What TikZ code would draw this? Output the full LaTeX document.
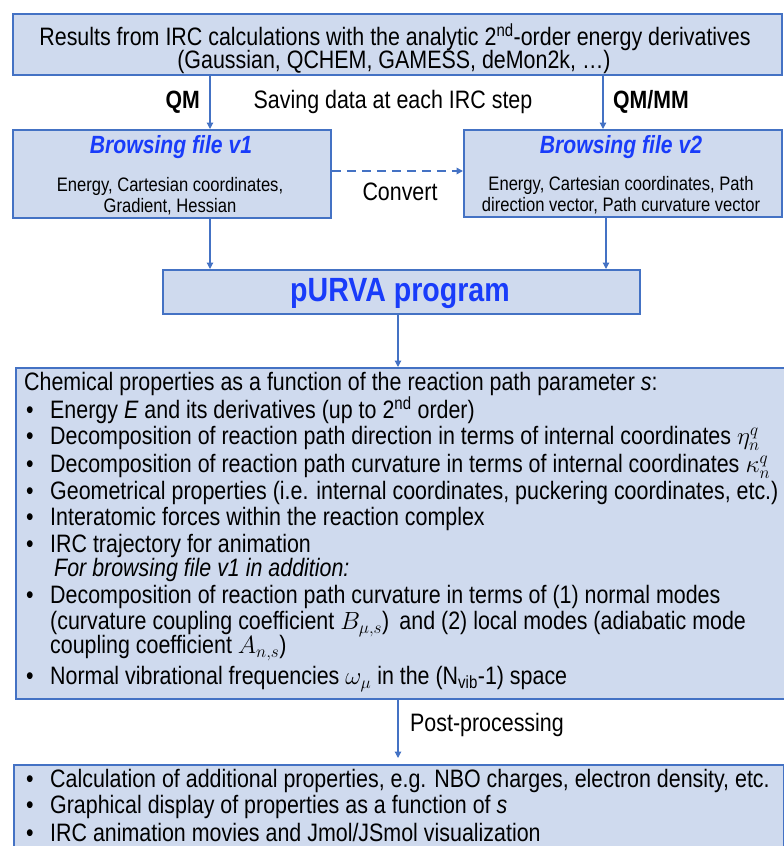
\documentclass[tikz,border=0pt]{standalone}
\usepackage{fontspec}
\setmainfont[FakeStretch=0.85]{Liberation Sans}
\usetikzlibrary{arrows.meta}
\definecolor{boxfill}{RGB}{207,218,238}
\definecolor{boxline}{RGB}{68,114,196}
\definecolor{titleblue}{RGB}{25,60,250}
\newcommand{\mybul}{\makebox[24pt][l]{•}}
\tikzset{
  box/.style={draw=boxline, fill=boxfill, line width=1.8pt, anchor=north west, inner sep=0pt},
  arr/.style={draw=boxline, line width=1.2pt, -{Triangle[width=6.5pt,length=6.5pt]}},
  txt/.style={inner sep=0pt, font=\fontsize{25.2}{28}\selectfont},
  small/.style={inner sep=0pt, font=\fontsize{19.5}{23}\selectfont},
  ttl/.style={inner sep=0pt, text=titleblue, font=\fontsize{24.9}{28}\selectfont\bfseries\itshape},
  line/.style={txt, anchor=west},
}
\begin{document}
\begin{tikzpicture}[x=1pt,y=-1pt]
\useasboundingbox (0,0) rectangle (784,846);
\clip (0,0) rectangle (784,846);
% boxes
\node[box, minimum width=769pt, minimum height=61pt] (top) at (12,13) {};
\node[box, minimum width=318pt, minimum height=88pt] (v1) at (12,129) {};
\node[box, minimum width=318pt, minimum height=87pt] (v2) at (463,129) {};
\node[box, minimum width=477pt, minimum height=44pt] (purva) at (162,269) {};
\node[box, minimum width=785pt, minimum height=331pt] (big) at (15,367) {};
\node[box, minimum width=770pt, minimum height=110pt] (bot) at (13,764) {};
% top text
\node[txt] (t1) at (395,37) {Results from IRC calculations with the analytic 2\textsuperscript{nd}-order energy derivatives};
\node[txt] (t2) at (394,62) {(Gaussian, QCHEM, GAMESS, deMon2k, …)};
% labels between
\node[txt, font=\fontsize{25}{28}\selectfont\bfseries, anchor=east] (qm) at (200,102) {QM};
\node[txt, font=\fontsize{25}{28}\selectfont\bfseries, anchor=west] (qmmm) at (613,102) {QM/MM};
\node[txt] (save) at (393,102) {Saving data at each IRC step};
% v1
\node[ttl] (v1t) at (171,147) {Browsing file v1};
\node[small] (v1a) at (170,186) {Energy, Cartesian coordinates,};
\node[small] (v1b) at (170,207) {Gradient, Hessian};
% v2
\node[ttl] (v2t) at (621,147) {Browsing file v2};
\node[small] (v2a) at (621,185) {Energy, Cartesian coordinates, Path};
\node[small] (v2b) at (621,206) {direction vector, Path curvature vector};
\node[txt] (conv) at (400,192) {Convert};
% purva
\node[inner sep=0pt, text=titleblue, font=\fontsize{33.6}{38}\selectfont\bfseries] (pt) at (400,293) {pURVA program};
% arrows
\coordinate (xa) at (210,0);
\coordinate (xb) at (603,0);
\coordinate (xc) at (606,0);
\coordinate (xd) at (398,0);
\draw[arr] (top.south -| xa) -- (v1.north -| xa);
\draw[arr] (top.south -| xb) -- (v2.north -| xb);
\draw[arr] (v1.south -| xa) -- (purva.north -| xa);
\draw[arr] (v2.south -| xc) -- (purva.north -| xc);
\draw[arr] (purva.south -| xd) -- (big.north -| xd);
\coordinate (pe) at (398,758);
\draw[arr] (big.south -| xd) -- (pe);
\coordinate (dy) at (0,171);
\draw[arr, line width=1.8pt, dash pattern=on 9pt off 6pt] (v1.east |- dy) -- (v2.west |- dy);
\node[txt, anchor=west] (post) at (410,725) {Post-processing};
% big box lines
\node[line] (l1) at (24,384) {Chemical properties as a function of the reaction path parameter \textit{s}:};
\node[line] (l2) at (26,410) {\mybul Energy \textit{E} and its derivatives (up to 2\textsuperscript{nd} order)};
\node[line] (l3) at (26,438) {\mybul Decomposition of reaction path direction in terms of internal coordinates $\eta_n^q$};
\node[line] (l4) at (26,466) {\mybul Decomposition of reaction path curvature in terms of internal coordinates $\kappa_n^q$};
\node[line] (l5) at (26,493) {\mybul Geometrical properties (i.e. internal coordinates, puckering coordinates, etc.)};
\node[line] (l6) at (26,519) {\mybul Interatomic forces within the reaction complex};
\node[line] (l7) at (26,546) {\mybul IRC trajectory for animation};
\node[line] (l8) at (54,570) {\textit{For browsing file v1 in addition:}};
\node[line] (l9) at (26,597) {\mybul Decomposition of reaction path curvature in terms of (1) normal modes};
\node[line] (l10) at (50,624) {(curvature coupling coefficient $B_{\mu,s}$)\, and (2) local modes (adiabatic mode};
\node[line] (l11) at (50,648) {coupling coefficient $A_{n,s}$)};
\node[line] (l12) at (26,679) {\mybul Normal vibrational frequencies $\omega_\mu$ in the (N\textsubscript{vib}-1) space};
% bottom box lines
\node[line] (b1) at (26,781) {\mybul Calculation of additional properties, e.g. NBO charges, electron density, etc.};
\node[line] (b2) at (26,807) {\mybul Graphical display of properties as a function of \textit{s}};
\node[line] (b3) at (26,832) {\mybul IRC animation movies and Jmol/JSmol visualization};
\end{tikzpicture}
\end{document}
